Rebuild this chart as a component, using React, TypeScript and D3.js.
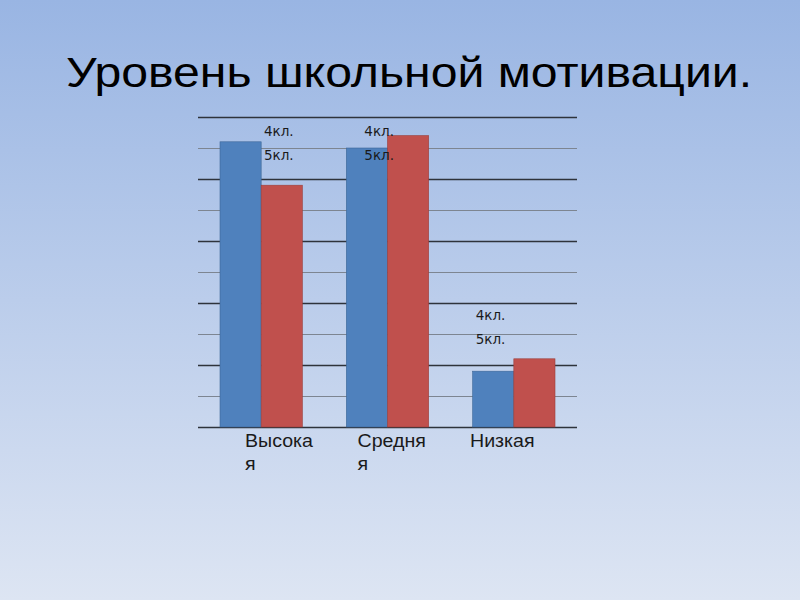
import { useEffect, useRef } from "react";
import * as d3 from "d3";

const categories = ["Высокая", "Средняя", "Низкая"];
const categoryLines = [["Высока", "я"], ["Средня", "я"], ["Низкая"]];
const series = ["4кл.", "5кл."];
const grade4 = [46, 45, 9];
const grade5 = [39, 47, 11];
const yTicks = [0, 5, 10, 15, 20, 25, 30, 35, 40, 45, 50];

export default function App() {
  const svgRef = useRef<SVGSVGElement>(null);

  useEffect(() => {
    if (!svgRef.current) return;
    const svg = d3.select(svgRef.current);
    svg.selectAll("*").remove();

    const width = 800;
    const height = 600;
    const margin = { top: 117, right: 223, bottom: 173, left: 198 };
    const innerW = width - margin.left - margin.right;
    const innerH = height - margin.top - margin.bottom;
    // the slide picture is stretched sideways a little
    const stretch = 1.12;

    // background gradient
    const defs = svg.append("defs");
    const grad = defs
      .append("linearGradient")
      .attr("id", "bg")
      .attr("x1", 0)
      .attr("y1", 0)
      .attr("x2", 0)
      .attr("y2", 1);
    grad.append("stop").attr("offset", "0%").attr("stop-color", "#99b5e3");
    grad.append("stop").attr("offset", "100%").attr("stop-color", "#dde5f3");
    svg
      .append("rect")
      .attr("width", width)
      .attr("height", height)
      .attr("fill", "url(#bg)");

    const widen = (sel: d3.Selection<SVGTextElement, unknown, null, undefined>) => {
      const node = sel.node();
      if (!node) return;
      const w = node.getComputedTextLength();
      sel.attr("textLength", w * stretch).attr("lengthAdjust", "spacingAndGlyphs");
    };

    const title = svg
      .append("text")
      .attr("x", 66)
      .attr("y", 87)
      .attr("font-family", "Liberation Sans, Arial, sans-serif")
      .attr("font-size", "43px")
      .attr("fill", "#000")
      .text("Уровень школьной мотивации.");
    widen(title as any);

    const g = svg
      .append("g")
      .attr("transform", `translate(${margin.left},${margin.top})`);

    const x0 = d3.scaleBand().domain(categories).range([0, innerW]).paddingInner(0).paddingOuter(0);
    const x1 = d3
      .scaleBand()
      .domain(series)
      .range([22, x0.bandwidth() - 22]);
    const y = d3.scaleLinear().domain([0, 50]).range([innerH, 0]);

    // grid
    g.append("g")
      .selectAll("line")
      .data(yTicks)
      .join("line")
      .attr("x1", 0)
      .attr("x2", innerW)
      .attr("y1", (d) => Math.round(y(d)) + 0.5)
      .attr("y2", (d) => Math.round(y(d)) + 0.5)
      .attr("stroke", (d) => (d % 10 === 0 ? "#2e333b" : "#7d8591"))
      .attr("stroke-width", (d) => (d % 10 === 0 ? 1.4 : 1));

    const colors = ["#4f81bd", "#c0504d"];
    const strokes = ["#3d6797", "#9c3e3b"];
    const values = [grade4, grade5];

    series.forEach((s, si) => {
      g.append("g")
        .selectAll("rect")
        .data(categories)
        .join("rect")
        .attr("x", (c) => (x0(c) ?? 0) + (x1(s) ?? 0))
        .attr("y", (_, i) => y(values[si][i]))
        .attr("width", x1.bandwidth())
        .attr("height", (_, i) => innerH - y(values[si][i]))
        .attr("fill", colors[si])
        .attr("stroke", strokes[si])
        .attr("stroke-width", 0.6);
    });

    // data label blocks (legend-like labels)
    const labelPos = [
      { dx: 66, y: 14 },
      { dx: 40, y: 14 },
      { dx: 25, y: 198 },
    ];
    categories.forEach((c, i) => {
      const t = g
        .append("text")
        .attr("x", (x0(c) ?? 0) + labelPos[i].dx)
        .attr("y", labelPos[i].y + 5)
        .attr("font-family", "DejaVu Sans, sans-serif")
        .attr("font-size", "13.5px")
        .attr("fill", "#1a1a1a");
      series.forEach((s, si) => {
        t.append("tspan")
          .attr("x", (x0(c) ?? 0) + labelPos[i].dx)
          .attr("dy", si === 0 ? 0 : 24)
          .text(s);
      });
    });

    // category labels
    const lx = d3.scalePoint().domain(categories).range([47, 272]);
    categories.forEach((c, i) => {
      categoryLines[i].forEach((line, li) => {
        const t = g
          .append("text")
          .attr("x", lx(c) ?? 0)
          .attr("y", innerH + 20 + li * 23)
          .attr("font-family", "Liberation Sans, Arial, sans-serif")
          .attr("font-size", "17.5px")
          .attr("fill", "#1a1a1a")
          .text(line);
        widen(t as any);
      });
    });
  }, []);

  return (
    <svg
      ref={svgRef}
      width={800}
      height={600}
      style={{ position: "absolute", left: 0, top: 0 }}
    />
  );
}
